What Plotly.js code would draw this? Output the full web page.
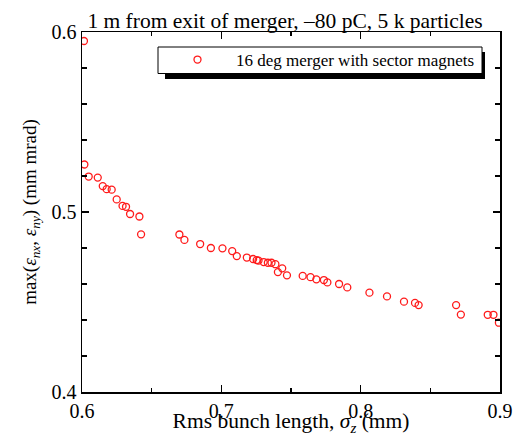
<!DOCTYPE html>
<html>
<head>
<meta charset="utf-8">
<script src="https://cdn.plot.ly/plotly-3.0.1.min.js"></script>
<style>html,body{margin:0;padding:0;background:#fff}#chart{width:518px;height:436px}</style>
</head>
<body>
<div id="chart"></div>
<script>
// Rms bunch length sigma_z (mm)
const bunchLength = [0.6014, 0.6017, 0.6048, 0.6113, 0.6149, 0.6177, 0.6213, 0.6249, 0.6291, 0.6316,
  0.6345, 0.6412, 0.6424, 0.6699, 0.6735, 0.6848, 0.6925, 0.7008, 0.7078, 0.7111,
  0.7183, 0.7228, 0.7254, 0.7267, 0.7304, 0.7334, 0.7360, 0.7388, 0.7406, 0.7437,
  0.7471, 0.7584, 0.7640, 0.7682, 0.7736, 0.7761, 0.7845, 0.7904, 0.8063, 0.8189,
  0.8311, 0.8390, 0.8416, 0.8685, 0.8719, 0.8912, 0.8953, 0.8992];
// max(eps_nx, eps_ny) (mm mrad)
const maxEmittance = [0.5950, 0.5264, 0.5197, 0.5191, 0.5144, 0.5127, 0.5124, 0.5070, 0.5034, 0.5029,
  0.4989, 0.4975, 0.4876, 0.4875, 0.4845, 0.4822, 0.4800, 0.4798, 0.4783, 0.4755,
  0.4747, 0.4739, 0.4733, 0.4730, 0.4722, 0.4718, 0.4718, 0.4710, 0.4666, 0.4687,
  0.4648, 0.4645, 0.4638, 0.4626, 0.4622, 0.4609, 0.4600, 0.4581, 0.4552, 0.4531,
  0.4502, 0.4495, 0.4483, 0.4483, 0.4430, 0.4429, 0.4429, 0.4385];
const seriesName = "16 deg merger with sector magnets";
const xTickVals = [0.6, 0.7, 0.8, 0.9];
const xTickText = ["0.6", "0.7", "0.8", "0.9"];
const yTickVals = [0.4, 0.5, 0.6];
const yTickText = ["0.4", "0.5", "0.6"];

const serif = "Liberation Serif, Times New Roman, serif";

const trace = {
  x: bunchLength, y: maxEmittance, type: "scatter", mode: "markers", name: seriesName,
  marker: {symbol: "circle-open", size: 7, color: "#ff1a1a", line: {width: 1.3, color: "#ff1a1a"}}
};

const W = 518, H = 436, ml = 82, mr = 18, mt = 32, mb = 44;
const pw = W - ml - mr, ph = H - mt - mb;
const px = v => (v - ml) / pw;          // container px -> paper x
const py = v => (H - mb - v) / ph;      // container px -> paper y

const layout = {
  width: W, height: H,
  margin: {l: ml, r: mr, t: mt, b: mb, pad: 0},
  paper_bgcolor: "#fff", plot_bgcolor: "#fff",
  font: {family: serif, color: "#000", size: 19},
  title: {text: "1 m from exit of merger, \u201380 pC, 5 k particles", font: {family: serif, size: 21.5, color: "#000"},
    xref: "container", x: 285 / W, xanchor: "center", yref: "container", y: 1 - 20 / H, yanchor: "middle"},
  xaxis: {
    range: [0.6, 0.9], showgrid: false, zeroline: false,
    showline: true, linecolor: "#000", linewidth: 1.5, mirror: "ticks",
    ticks: "inside", ticklen: 7, tickwidth: 1.2, tickcolor: "#000",
    tickvals: xTickVals, ticktext: xTickText, tickfont: {family: serif, size: 20},
    minor: {dtick: 0.05, tick0: 0.6, ticks: "inside", ticklen: 4, tickwidth: 1.2, tickcolor: "#000", showgrid: false},
    title: {text: "Rms bunch length, <i>\u03c3</i><sub><i>z</i></sub> (mm)", font: {family: serif, size: 21.5}, standoff: 0}
  },
  yaxis: {
    range: [0.4, 0.6], showgrid: false, zeroline: false,
    showline: true, linecolor: "#000", linewidth: 1.5, mirror: "ticks",
    ticks: "inside", ticklen: 7, tickwidth: 1.2, tickcolor: "#000",
    tickvals: yTickVals, ticktext: yTickText, tickfont: {family: serif, size: 20},
    minor: {dtick: 0.02, tick0: 0.4, ticks: "inside", ticklen: 5, tickwidth: 1.2, tickcolor: "#000", showgrid: false},
    title: {text: "max(<i>\u03b5</i><sub><i>nx</i></sub>, <i>\u03b5</i><sub><i>ny</i></sub>) (mm mrad)", font: {family: serif, size: 19}, standoff: 10}
  },
  showlegend: true,
  legend: {
    x: px(159), y: py(60), xanchor: "left", yanchor: "middle",
    bgcolor: "rgba(0,0,0,0)", borderwidth: 0,
    font: {family: serif, size: 17, color: "#000"}, itemwidth: 67
  },
  shapes: [
    {type: "rect", xref: "paper", yref: "paper", layer: "above",
      x0: px(165), x1: px(485), y0: py(79), y1: py(52),
      fillcolor: "#000", line: {width: 0}},
    {type: "rect", xref: "paper", yref: "paper", layer: "above",
      x0: px(158), x1: px(482), y0: py(73.5), y1: py(47),
      fillcolor: "#fff", line: {width: 1, color: "#000"}}
  ]
};

Plotly.newPlot("chart", [trace], layout, {displayModeBar: false, staticPlot: true});
</script>
</body>
</html>
